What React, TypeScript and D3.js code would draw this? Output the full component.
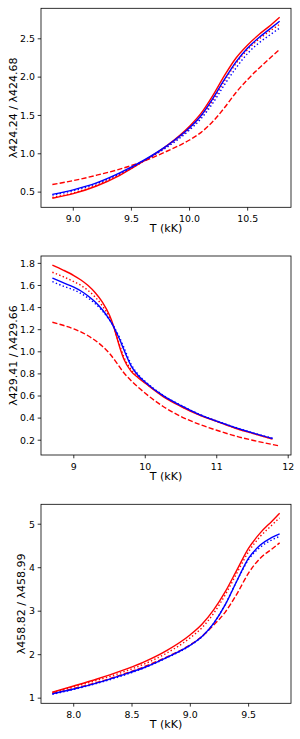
import * as d3 from 'd3';

// panel 1: λ424.24 / λ424.68
const T1 = [8.82, 9.0, 9.2, 9.4, 9.6, 9.8, 10.0, 10.1, 10.2, 10.3, 10.4, 10.5, 10.6, 10.7, 10.775];
const P1_RED = [0.42, 0.48, 0.58, 0.72, 0.9, 1.1, 1.36, 1.53, 1.76, 2.02, 2.25, 2.42, 2.56, 2.68, 2.78];
const P1_RED_DOT = [0.43, 0.49, 0.59, 0.73, 0.9, 1.09, 1.33, 1.49, 1.7, 1.95, 2.18, 2.36, 2.5, 2.61, 2.69];
const P1_RED_DASH = [0.6, 0.65, 0.72, 0.8, 0.9, 1.03, 1.18, 1.28, 1.42, 1.6, 1.8, 1.97, 2.12, 2.26, 2.36];
const P1_BLUE = [0.47, 0.53, 0.62, 0.75, 0.91, 1.1, 1.34, 1.5, 1.72, 1.97, 2.2, 2.38, 2.52, 2.64, 2.73];
const P1_BLUE_DOT = [0.46, 0.52, 0.61, 0.74, 0.9, 1.08, 1.31, 1.46, 1.66, 1.9, 2.12, 2.31, 2.45, 2.56, 2.64];

// panel 2: λ429.41 / λ429.66
const T2 = [8.7, 8.85, 9.0, 9.1, 9.2, 9.3, 9.4, 9.5, 9.55, 9.6, 9.65, 9.7, 9.8, 9.9, 10.0, 10.25, 10.5, 10.75, 11.0, 11.25, 11.5, 11.78];
const P2_RED = [1.785, 1.74, 1.69, 1.65, 1.6, 1.535, 1.45, 1.33, 1.245, 1.135, 1.025, 0.935, 0.825, 0.765, 0.715, 0.595, 0.505, 0.43, 0.37, 0.31, 0.262, 0.21];
const P2_RED_DOT = [1.72, 1.68, 1.635, 1.6, 1.555, 1.495, 1.415, 1.31, 1.235, 1.14, 1.045, 0.955, 0.84, 0.775, 0.72, 0.6, 0.508, 0.432, 0.371, 0.312, 0.263, 0.212];
const P2_BLUE = [1.667, 1.625, 1.585, 1.55, 1.505, 1.45, 1.38, 1.29, 1.235, 1.17, 1.1, 1.02, 0.875, 0.785, 0.725, 0.603, 0.512, 0.434, 0.372, 0.316, 0.266, 0.215];
const P2_BLUE_DOT = [1.635, 1.595, 1.56, 1.528, 1.487, 1.435, 1.37, 1.288, 1.24, 1.18, 1.115, 1.04, 0.89, 0.795, 0.732, 0.607, 0.516, 0.437, 0.374, 0.318, 0.268, 0.218];
const T2_DASH = [8.7, 8.85, 9.0, 9.2, 9.4, 9.5, 9.6, 9.7, 9.8, 10.0, 10.25, 10.5, 10.75, 11.0, 11.25, 11.5, 11.88];
const P2_RED_DASH = [1.267, 1.24, 1.207, 1.145, 1.05, 0.985, 0.9, 0.81, 0.74, 0.625, 0.505, 0.415, 0.345, 0.29, 0.24, 0.2, 0.148];

// panel 3: λ458.82 / λ458.99
const T3 = [7.817, 8.0, 8.2, 8.4, 8.6, 8.8, 9.0, 9.1, 9.2, 9.3, 9.4, 9.5, 9.6, 9.7, 9.766];
const P3_RED = [1.14, 1.28, 1.44, 1.62, 1.83, 2.1, 2.46, 2.7, 3.03, 3.45, 3.95, 4.45, 4.8, 5.07, 5.25];
const P3_RED_DOT = [1.13, 1.26, 1.41, 1.58, 1.78, 2.04, 2.39, 2.62, 2.95, 3.38, 3.88, 4.37, 4.72, 4.98, 5.15];
const P3_RED_DASH = [1.11, 1.22, 1.36, 1.53, 1.72, 1.95, 2.23, 2.42, 2.68, 2.98, 3.4, 3.88, 4.22, 4.43, 4.57];
const P3_BLUE = [1.1, 1.21, 1.35, 1.52, 1.7, 1.94, 2.22, 2.42, 2.72, 3.15, 3.7, 4.22, 4.52, 4.7, 4.78];
const P3_BLUE_DOT = [1.09, 1.2, 1.34, 1.5, 1.69, 1.93, 2.21, 2.41, 2.72, 3.16, 3.7, 4.19, 4.47, 4.64, 4.72];

const X_TICKS = [[9.0, 9.5, 10.0, 10.5], [9, 10, 11, 12], [8.0, 8.5, 9.0, 9.5]];
const Y_TICKS = [[0.5, 1.0, 1.5, 2.0, 2.5], [0.2, 0.4, 0.6, 0.8, 1.0, 1.2, 1.4, 1.6, 1.8], [1, 2, 3, 4, 5]];
const Y_LABELS = ['λ424.24 / λ424.68', 'λ429.41 / λ429.66', 'λ458.82 / λ458.99'];

const RED = '#ff0000';
const BLUE = '#0000ff';
const DASH = '5.2,2.2';
const DOT = '1.4,2.3';
const FONT = 'DejaVu Sans, sans-serif';

const W = 300;
const H = 739;
const L = 41;
const R = 291;
const PH = 199;
const TOPS = [8.3, 256, 504.3];

type S = { t: number[]; v: number[]; color: string; dash?: string };

const panels: { series: S[]; xFmt: (d: number) => string; yFmt: (d: number) => string; ylx: number }[] = [
  {
    series: [
      { t: T1, v: P1_RED_DASH, color: RED, dash: DASH },
      { t: T1, v: P1_RED_DOT, color: RED, dash: DOT },
      { t: T1, v: P1_RED, color: RED },
      { t: T1, v: P1_BLUE, color: BLUE },
      { t: T1, v: P1_BLUE_DOT, color: BLUE, dash: DOT },
    ],
    xFmt: d3.format('.1f'), yFmt: d3.format('.1f'), ylx: 17,
  },
  {
    series: [
      { t: T2_DASH, v: P2_RED_DASH, color: RED, dash: DASH },
      { t: T2, v: P2_RED_DOT, color: RED, dash: DOT },
      { t: T2, v: P2_RED, color: RED },
      { t: T2, v: P2_BLUE, color: BLUE },
      { t: T2, v: P2_BLUE_DOT, color: BLUE, dash: DOT },
    ],
    xFmt: d3.format('d'), yFmt: d3.format('.1f'), ylx: 17,
  },
  {
    series: [
      { t: T3, v: P3_RED_DASH, color: RED, dash: DASH },
      { t: T3, v: P3_RED_DOT, color: RED, dash: DOT },
      { t: T3, v: P3_RED, color: RED },
      { t: T3, v: P3_BLUE, color: BLUE },
      { t: T3, v: P3_BLUE_DOT, color: BLUE, dash: DOT },
    ],
    xFmt: d3.format('.1f'), yFmt: d3.format('d'), ylx: 25,
  },
];

// matplotlib-style 5% margins
function padded(vals: number[]): [number, number] {
  const [a, b] = d3.extent(vals) as [number, number];
  const m = (b - a) * 0.05;
  return [a - m, b + m];
}

function Panel({ i }: { i: number }) {
  const p = panels[i];
  const top = TOPS[i];
  const bottom = top + PH;
  const x = d3.scaleLinear(padded(p.series.flatMap(s => s.t)), [L, R]);
  const y = d3.scaleLinear(padded(p.series.flatMap(s => s.v)), [bottom, top]);
  const line = d3.line<[number, number]>()
    .x(d => x(d[0])).y(d => y(d[1])).curve(d3.curveMonotoneX);

  return (
    <g>
      {p.series.map((s, k) => (
        <path key={k} d={line(s.t.map((t, j) => [t, s.v[j]]))!} fill="none"
          stroke={s.color} strokeWidth={1.4} strokeDasharray={s.dash} />
      ))}
      <rect x={L} y={top} width={R - L} height={PH} fill="none" stroke="#000" strokeWidth={0.8} />
      {X_TICKS[i].map(t => (
        <g key={t} transform={`translate(${x(t)},${bottom})`}>
          <line y2={3.3} stroke="#000" strokeWidth={0.8} />
          <text y={14.5} textAnchor="middle" fontSize={9.4} fontFamily={FONT}>{p.xFmt(t)}</text>
        </g>
      ))}
      {Y_TICKS[i].map(t => (
        <g key={t} transform={`translate(${L},${y(t)})`}>
          <line x2={-3.3} stroke="#000" strokeWidth={0.8} />
          <text x={-6} dy="0.35em" textAnchor="end" fontSize={9.4} fontFamily={FONT}>{p.yFmt(t)}</text>
        </g>
      ))}
      <text x={(L + R) / 2} y={bottom + 25} textAnchor="middle" fontSize={11} fontFamily={FONT}>T (kK)</text>
      <text transform={`translate(${p.ylx},${(top + bottom) / 2}) rotate(-90)`} textAnchor="middle"
        fontSize={11} fontFamily={FONT}>{Y_LABELS[i]}</text>
    </g>
  );
}

export default function App() {
  return (
    <svg width={W} height={H} style={{ position: 'absolute', left: 0, top: 0, background: '#fff' }}>
      {panels.map((_, i) => <Panel key={i} i={i} />)}
    </svg>
  );
}
